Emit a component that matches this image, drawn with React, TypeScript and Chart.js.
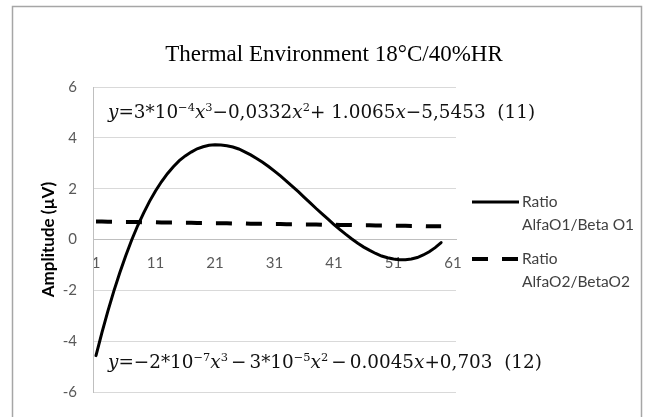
import React, { useEffect, useRef } from 'react';
import { Chart, registerables } from 'chart.js';

Chart.register(...registerables);

const categories = [
  '1','2','3','4','5','6','7','8','9','10','11','12','13','14','15','16','17','18','19','20',
  '21','22','23','24','25','26','27','28','29','30','31','32','33','34','35','36','37','38','39','40',
  '41','42','43','44','45','46','47','48','49','50','51','52','53','54','55','56','57','58','59','60','61'
];

const shownTickLabels = ['1', '11', '21', '31', '41', '51', '61'];

const ratioO1 = [
  -4.57, -3.66, -2.82, -2.03, -1.31, -0.64, -0.02, 0.54, 1.04, 1.50,
  1.91, 2.27, 2.59, 2.86, 3.10, 3.29, 3.44, 3.57, 3.65, 3.71,
  3.73, 3.72, 3.69, 3.64, 3.56, 3.45, 3.33, 3.19, 3.04, 2.87,
  2.69, 2.50, 2.30, 2.09, 1.88, 1.66, 1.44, 1.22, 1.01, 0.80,
  0.59, 0.39, 0.20, 0.02, -0.15, -0.30, -0.43, -0.55, -0.65, -0.72,
  -0.77, -0.80, -0.80, -0.77, -0.71, -0.61, -0.48, -0.32, -0.12
];

const ratioO2 = [
  0.71, 0.71, 0.70, 0.70, 0.70, 0.69, 0.69, 0.69, 0.68, 0.68,
  0.68, 0.67, 0.67, 0.67, 0.66, 0.66, 0.66, 0.65, 0.65, 0.65,
  0.64, 0.64, 0.64, 0.63, 0.63, 0.63, 0.62, 0.62, 0.62, 0.61,
  0.61, 0.61, 0.60, 0.60, 0.60, 0.59, 0.59, 0.59, 0.58, 0.58,
  0.58, 0.57, 0.57, 0.57, 0.56, 0.56, 0.56, 0.55, 0.55, 0.55,
  0.54, 0.54, 0.54, 0.53, 0.53, 0.53, 0.52, 0.52, 0.52
];

const seriesNames = [['Ratio', 'AlfaO1/Beta O1'], ['Ratio', 'AlfaO2/BetaO2']];
const chartTitle = 'Thermal Environment 18°C/40%HR';
const yAxisTitle = 'Amplitude (µV)';

type Run = { t: string; it?: boolean; sup?: boolean };

const equation11: Run[] = [
  { t: 'y', it: true }, { t: '=3*10' }, { t: '−4', sup: true }, { t: 'x', it: true }, { t: '3', sup: true },
  { t: '−0,0332' }, { t: 'x', it: true }, { t: '2', sup: true }, { t: '+ 1.0065' }, { t: 'x', it: true },
  { t: '−5,5453  (11)' }
];
const equation12: Run[] = [
  { t: 'y', it: true }, { t: '=−2*10' }, { t: '−7', sup: true }, { t: 'x', it: true }, { t: '3', sup: true },
  { t: '\u2006−\u2006' + '3*10' }, { t: '−5', sup: true }, { t: 'x', it: true }, { t: '2', sup: true }, { t: '\u2006−\u2006' + '0.0045' },
  { t: 'x', it: true }, { t: '+0,703  (12)' }
];

const TITLE_FONT = '"Liberation Serif", serif';
const EQ_FONT = '"DejaVu Serif", "Liberation Serif", serif';
const SANS = 'Lato, "Open Sans", sans-serif';

function drawRuns(ctx: CanvasRenderingContext2D, runs: Run[], x: number, y: number, size: number) {
  let cx = x;
  ctx.textBaseline = 'alphabetic';
  ctx.textAlign = 'left';
  for (const r of runs) {
    const s = r.sup ? size * 0.62 : size;
    ctx.font = `${r.it ? 'italic ' : ''}${s}px ${EQ_FONT}`;
    const dy = r.sup ? -size * 0.36 : 0;
    ctx.fillText(r.t, cx, y + dy);
    cx += ctx.measureText(r.t).width;
  }
  return cx;
}

const decorPlugin = {
  id: 'decor',
  afterDraw(chart: any) {
    const ctx: CanvasRenderingContext2D = chart.ctx;
    ctx.save();
    // outer frame
    ctx.strokeStyle = '#a6a6a6';
    ctx.lineWidth = 1.5;
    ctx.strokeRect(12.5, 6.5, 629, 430);
    // title
    ctx.fillStyle = '#000';
    ctx.font = `23px ${TITLE_FONT}`;
    ctx.textAlign = 'center';
    ctx.textBaseline = 'middle';
    ctx.fillText(chartTitle, 334, 55);
    // equations
    ctx.fillStyle = '#111';
    drawRuns(ctx, equation11, 108, 118, 18.4);
    drawRuns(ctx, equation12, 108, 368, 18.4);
    // legend
    const ds = chart.data.datasets;
    const rows = [202, 259];
    rows.forEach((yy, i) => {
      const d = ds[i];
      ctx.strokeStyle = d.borderColor;
      ctx.lineWidth = d.borderWidth;
      ctx.setLineDash(d.borderDash || []);
      ctx.beginPath();
      ctx.moveTo(472, yy);
      ctx.lineTo(519, yy);
      ctx.stroke();
      ctx.setLineDash([]);
      ctx.fillStyle = '#404040';
      ctx.font = `15.5px ${SANS}`;
      ctx.textAlign = 'left';
      ctx.textBaseline = 'middle';
      ctx.fillText(seriesNames[i][0], 522, yy);
      ctx.fillText(seriesNames[i][1], 522, yy + 23);
    });
    ctx.restore();
  }
};

export default function App() {
  const canvasRef = useRef<HTMLCanvasElement | null>(null);
  useEffect(() => {
    document.body.style.margin = '0';
    const canvas = canvasRef.current;
    if (!canvas) return;
    const chart = new Chart(canvas, {
      type: 'line',
      data: {
        labels: categories,
        datasets: [
          {
            label: seriesNames[0].join(' '),
            data: ratioO1,
            borderColor: '#000000',
            borderWidth: 3,
            pointRadius: 0,
            tension: 0,
            fill: false,
            borderCapStyle: 'round',
          },
          {
            label: seriesNames[1].join(' '),
            data: ratioO2,
            borderColor: '#000000',
            borderWidth: 4,
            borderDash: [16, 14],
            pointRadius: 0,
            tension: 0,
            fill: false,
          },
        ],
      },
      options: {
        responsive: false,
        animation: false,
        layout: { padding: { left: 0, right: 197, top: 87, bottom: 19 } },
        plugins: {
          legend: { display: false },
          title: { display: false },
          tooltip: { enabled: false },
        },
        scales: {
          x: {
            type: 'category',
            position: { y: 0 } as any,
            offset: true,
            grid: { display: false, drawTicks: false },
            border: { display: true, color: '#bfbfbf', width: 1 },
            ticks: {
              autoSkip: false,
              maxRotation: 0,
              padding: 15,
              color: '#595959',
              font: { family: SANS, size: 15 },
              callback: function (this: any, value: any) {
                const lbl = this.getLabelForValue(value);
                return shownTickLabels.includes(lbl) ? lbl : '';
              },
            },
          },
          y: {
            min: -6,
            max: 6,
            afterFit: (scale: any) => { scale.width = 93; },
            grid: { color: '#d9d9d9', drawTicks: false, lineWidth: 1 },
            border: { display: true, color: '#bfbfbf', width: 1 },
            ticks: {
              stepSize: 2,
              padding: 16,
              color: '#595959',
              font: { family: SANS, size: 15 },
            },
            title: {
              display: true,
              text: yAxisTitle,
              color: '#000',
              font: { family: SANS, size: 17, weight: 'bold' },
              padding: { top: 38, bottom: 0 },
            },
          },
        },
      },
      plugins: [decorPlugin],
    });
    return () => chart.destroy();
  }, []);
  return (
    <div style={{ width: 653, height: 417, position: 'relative', background: '#fff' }}>
      <canvas ref={canvasRef} width={653} height={417} />
    </div>
  );
}
